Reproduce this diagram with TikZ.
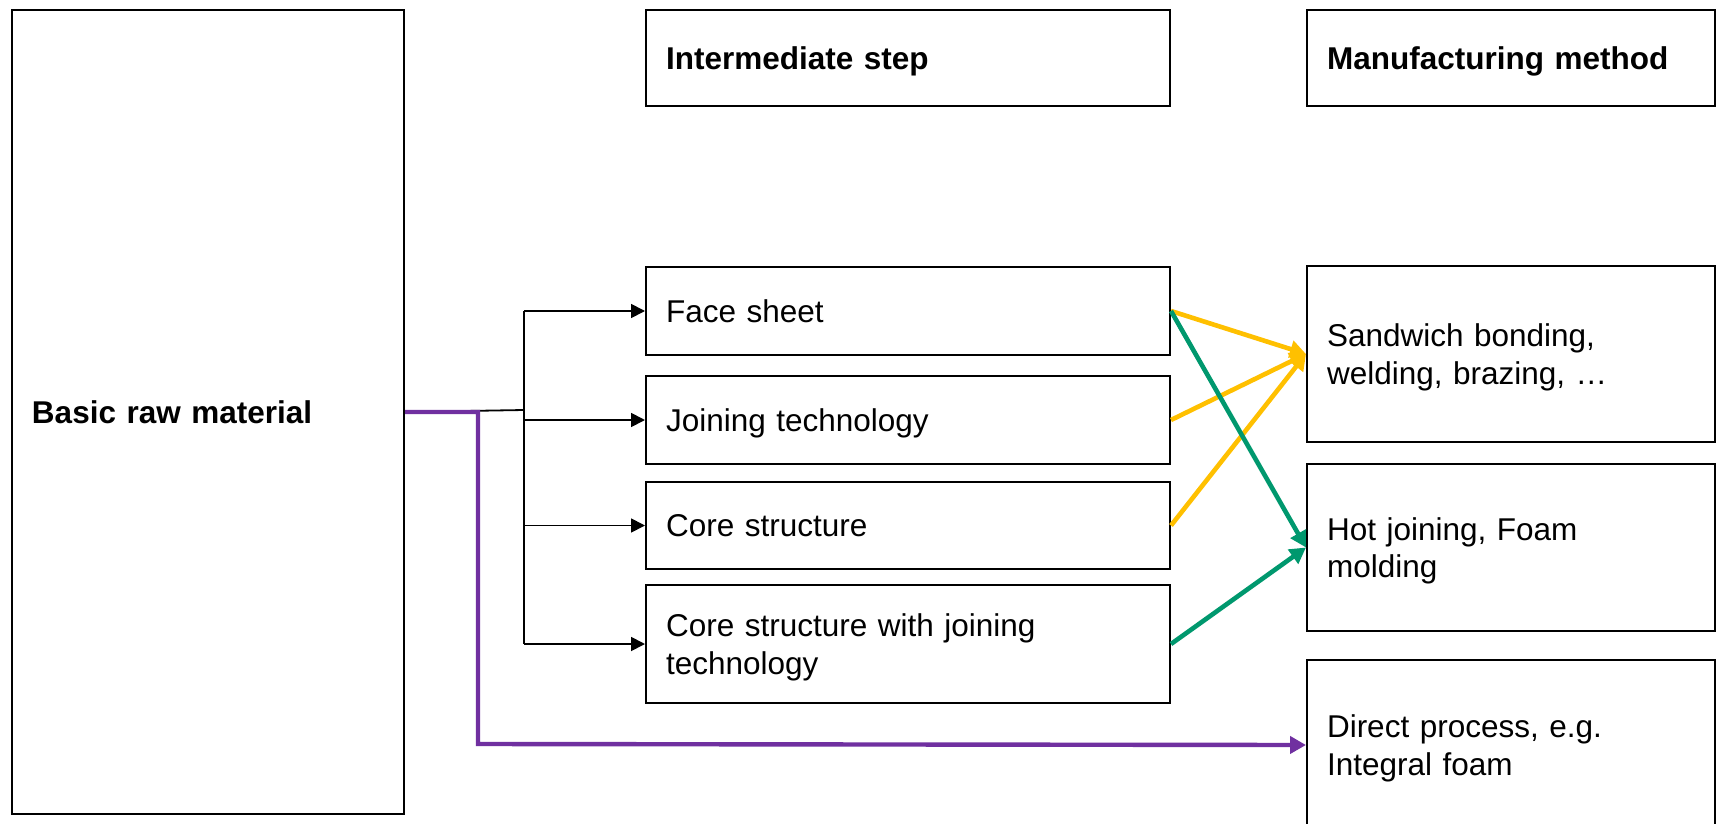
\documentclass[tikz,border=0pt]{standalone}
\usepackage{fontspec}
\setmainfont{Liberation Sans}
\usetikzlibrary{arrows.meta}

\definecolor{flowyellow}{RGB}{255,192,0}
\definecolor{flowgreen}{RGB}{0,152,110}
\definecolor{flowpurple}{RGB}{112,48,160}

\tikzset{
  box/.style={draw=black, line width=1pt, fill=white, anchor=north west,
    inner xsep=10pt, inner ysep=2pt, align=left, text depth=0pt,
    font=\fontsize{15.75}{18.75}\selectfont},
  twolines/.style={text depth=18.75pt},
  midbox/.style={box, text width=242pt, minimum width=262pt},
  manbox/.style={box, text width=184pt, minimum width=204pt},
  conn/.style={draw=black, line width=0.9pt},
  connarrow/.style={conn, -{Triangle[length=7pt,width=7pt]}},
  yelarrow/.style={draw=flowyellow, line width=2.3pt, -{Triangle[length=8pt,width=8.5pt]}},
  grnarrow/.style={draw=flowgreen, line width=2.3pt, -{Triangle[length=8pt,width=8.5pt]}},
  purarrow/.style={draw=flowpurple, line width=2.2pt, -{Triangle[length=8pt,width=8.5pt]}},
}

\begin{document}
\begin{tikzpicture}[x=0.5pt, y=-0.5pt]
\useasboundingbox (0,0) rectangle (1723,824);
\fill[white] (0,0) rectangle (1723,824);
\clip (0,0) rectangle (1723,824);

% raw material column
\node[box, text width=176pt, minimum width=196pt, minimum height=402pt]
  (basic) at (11,9) {\bfseries Basic raw material};

% column headers
\node[midbox, minimum height=48pt] (hdrmid) at (645,9) {\bfseries Intermediate step};
\node[manbox, minimum height=48pt] (hdrman) at (1306,9) {\bfseries Manufacturing method};

% intermediate steps
\node[midbox, minimum height=44pt] (face) at (645,266) {Face sheet};
\node[midbox, minimum height=44pt] (join) at (645,375) {Joining technology};
\node[midbox, minimum height=43.5pt] (core) at (645,481) {Core structure};
\node[midbox, twolines, minimum height=59pt] (corej) at (645,584) {Core structure with joining\\technology};

% manufacturing methods
\node[manbox, twolines, minimum height=88pt] (sand) at (1306,265) {Sandwich bonding,\\welding, brazing, …};
\node[manbox, twolines, minimum height=83.5pt] (hot) at (1306,463) {Hot joining, Foam\\molding};
\node[manbox, twolines, minimum height=85pt] (direct) at (1306,659) {Direct process, e.g.\\Integral foam};

% distribution bus to the intermediate steps
\coordinate (bus) at (524,410);
\draw[conn] (basic.east) -- (bus);
\draw[conn] (face.west -| bus) -- (corej.west -| bus);
\draw[connarrow] (face.west -| bus) -- (face.west);
\draw[connarrow] (join.west -| bus) -- (join.west);
\draw[connarrow] (core.west -| bus) -- (core.west);
\draw[connarrow] (corej.west -| bus) -- (corej.west);

% direct route
\coordinate (pdrop) at (478,744);
\draw[purarrow] (basic.east) -| (pdrop) -- (direct.west);

% routes into sandwich bonding
\draw[yelarrow] (face.east) -- (sand.west);
\draw[yelarrow] (join.east) -- (sand.west);
\draw[yelarrow] (core.east) -- (sand.west);

% routes into hot joining
\draw[grnarrow] (face.east) -- (hot.west);
\draw[grnarrow] (corej.east) -- (hot.west);
\end{tikzpicture}
\end{document}
